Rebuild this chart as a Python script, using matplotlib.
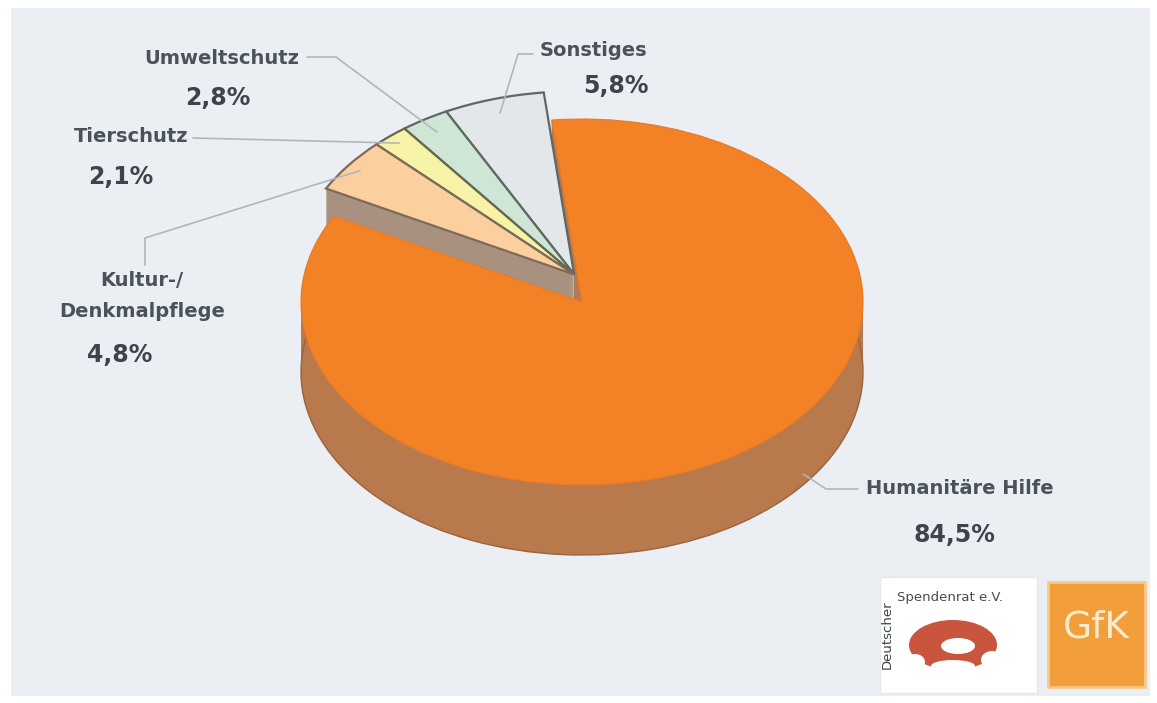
import matplotlib
matplotlib.use("Agg")
import matplotlib.pyplot as plt
import numpy as np
from matplotlib.patches import Wedge, Rectangle, Ellipse

W, H = 1157, 703

# Spendenanteile nach Bereich
categories = ["Humanitäre Hilfe", "Sonstiges", "Umweltschutz", "Tierschutz", "Kultur-/\nDenkmalpflege"]
shares = [84.5, 5.8, 2.8, 2.1, 4.8]
share_labels = ["84,5%", "5,8%", "2,8%", "2,1%", "4,8%"]

top_colors = ["#f38226", "#e3e7ea", "#cfe6d6", "#f7f3a6", "#fccf9f"]
side_colors = ["#b8794c", "#c6cacd", "#93a89d", "#aaa77d", "#a8927f"]
edge_colors = ["#e57a2a", "#5f6864", "#5c6a60", "#666650", "#7d6a58"]

# pie geometry (pixels)
CX, CY = 582, 302
RX, RY = 281, 183
DEPTH = 70
LIFT = 20
EXPLODE = 0.05
START = 152
SQ = RY / RX

fig = plt.figure(figsize=(W / 100, H / 100), dpi=100)
fig.patch.set_facecolor("white")

ax_bg = fig.add_axes([0, 0, 1, 1], zorder=0)
ax_pie = fig.add_axes([0, 0, 1, 1], zorder=1)
ax_txt = fig.add_axes([0, 0, 1, 1], zorder=2)
for a in (ax_bg, ax_txt):
    a.set_xlim(0, W)
    a.set_ylim(H, 0)
ax_pie.set_xlim(0, W)
ax_pie.set_ylim(0, H / SQ)
for a in (ax_bg, ax_pie, ax_txt):
    a.axis("off")
    a.patch.set_alpha(0)

ax_bg.add_patch(Rectangle((11, 8), 1139, 688, facecolor="#ebeff3", edgecolor="none"))

fracs = np.array(shares) / np.sum(shares)
bounds = START + 360 * np.concatenate([[0], np.cumsum(fracs)])
theta1, theta2 = bounds[:-1], bounds[1:]

# small slices are lifted and pulled out as one group
mid_small = np.deg2rad((theta1[1] + theta2[-1]) / 2)
off_x = EXPLODE * RX * np.cos(mid_small)
off_y = -EXPLODE * RY * np.sin(mid_small)


def wedge(px, py, t1, t2, fc, ec="none", lw=0):
    ax_pie.add_patch(Wedge((px, (H - py) / SQ), RX, t1, t2, facecolor=fc,
                           edgecolor=ec, linewidth=lw, antialiased=True))


# orange walls
for z in range(DEPTH, 0, -1):
    wedge(CX, CY + z, theta1[0], theta2[0], side_colors[0])
wedge(CX, CY + DEPTH, theta1[0], theta2[0], "none", "#9a6440", 1.0)

# small slice walls and tops
scx, scy = CX + off_x, CY + off_y - LIFT
for z in range(DEPTH + LIFT, 0, -1):
    for i in range(1, len(shares)):
        wedge(scx, scy + z, theta1[i], theta2[i], side_colors[i])
for i in range(1, len(shares)):
    wedge(scx, scy, theta1[i], theta2[i], top_colors[i], edge_colors[i], 1.6)

# orange top
wedge(CX, CY, theta1[0], theta2[0], top_colors[0], edge_colors[0], 0.8)

# labels
txt_kw = dict(fontsize=14, fontweight="bold", color="#4a525b", ha="center", va="center")
pct_kw = dict(fontsize=17, fontweight="bold", color="#3d444c", ha="center", va="center")
line_kw = dict(color="#b0b6bc", lw=1.2, solid_capstyle="round")

label_pos = [(960, 489), (593, 50), (222, 58), (131, 137), (142, 296)]
pct_pos = [(954, 535), (616, 86), (218, 98), (121, 177), (120, 355)]
for name, pct, lp, pp in zip(categories, share_labels, label_pos, pct_pos):
    ax_txt.text(*lp, name, linespacing=1.75, **txt_kw)
    ax_txt.text(*pp, pct, **pct_kw)


def rim(i, r=0.92):
    t = np.deg2rad((theta1[i] + theta2[i]) / 2)
    return scx + r * RX * np.cos(t), scy - r * RY * np.sin(t)


# leader lines
t0 = np.deg2rad(-38)
hx, hy = CX + RX * np.cos(t0), CY - RY * np.sin(t0) + DEPTH * 0.85
ax_txt.plot([858, 826, hx], [489, 489, hy], **line_kw)
ex, ey = rim(1)
ax_txt.plot([533, 518, ex], [54, 54, ey], **line_kw)
ex, ey = rim(2)
ax_txt.plot([307, 336, ex], [57, 57, ey], **line_kw)
ex, ey = rim(3, 0.95)
ax_txt.plot([193, ex], [138, ey], **line_kw)
ex, ey = rim(4, 0.95)
ax_txt.plot([145, 145, ex], [265, 238, ey], **line_kw)

# Spendenrat logo
ax_bg.add_patch(Rectangle((880, 577), 157, 116, facecolor="white", edgecolor="#e4e8ec", lw=1))
ax_txt.text(887, 635, "Deutscher", rotation=90, fontsize=9.5, color="#3a4439",
            ha="center", va="center")
ax_txt.text(897, 597, "Spendenrat e.V.", fontsize=9.5, color="#4a4a4a", ha="left", va="center")
ax_txt.add_patch(Ellipse((953, 645), 88, 50, facecolor="#c9553f", edgecolor="none"))
ax_txt.add_patch(Ellipse((958, 646), 34, 16, facecolor="white", edgecolor="none"))
ax_txt.add_patch(Ellipse((953, 666), 44, 12, facecolor="white", edgecolor="none"))
ax_txt.add_patch(Ellipse((915, 662), 20, 16, facecolor="white", edgecolor="none"))
ax_txt.add_patch(Ellipse((992, 660), 22, 18, facecolor="white", edgecolor="none"))

# GfK logo
ax_bg.add_patch(Rectangle((1048, 582), 97, 105, facecolor="#f29e3a", edgecolor="#f8c98a", lw=2))
ax_txt.text(1096, 628, "GfK", fontsize=27, color="#fbecd0", ha="center", va="center")

fig.savefig("out.png", dpi=100, facecolor="white")
